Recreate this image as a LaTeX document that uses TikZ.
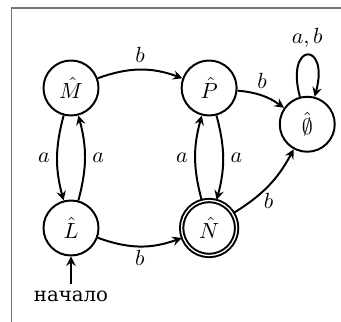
\documentclass[tikz,border=0pt]{standalone}
\usepackage{fontspec}
\setmainfont{DejaVu Serif}[Scale=0.9]
\usetikzlibrary{automata,positioning,arrows}

\tikzset{every state/.style={minimum size=0.88cm, inner sep=0pt}}

\begin{document}
\begin{tikzpicture}[>=stealth, line width=0.9pt]
  \useasboundingbox (-1.136,1.408) rectangle (4.32,-3.744);
  \draw[gray!90!black, line width=0.9pt] (4.32,1.28) -- (-0.952,1.28) -- (-0.952,-3.744);

  \node[state] (M) at (0,0) {$\hat{M}$};
  \node[state] (P) at (2.21,0) {$\hat{P}$};
  \node[state] (L) at (0,-2.24) {$\hat{L}$};
  \node[state,accepting] (N) at (2.21,-2.24) {$\hat{N}$};
  \node[state] (E) at (3.78,-0.58) {$\hat{\emptyset}$};
  \node (start) at (0,-3.34) {начало};

  \path[->]
    (M) edge[bend left=20] node[above] {$b$} (P)
    (M) edge[bend right=15] node[left] {$a$} (L)
    (L) edge[bend right=15] node[right] {$a$} (M)
    (P) edge[bend left=15] node[right] {$a$} (N)
    (N) edge[bend left=15] node[left] {$a$} (P)
    (L) edge[bend right=20] node[below, inner sep=1.5pt] {$b$} (N)
    (P) edge[bend left=15] node[above] {$b$} (E)
    (N) edge[bend right=15] node[below] {$b$} (E)
    (E) edge[loop above, looseness=10] node[above] {$a,b$} (E);

  \draw[->] (start) -- (L);
\end{tikzpicture}
\end{document}
